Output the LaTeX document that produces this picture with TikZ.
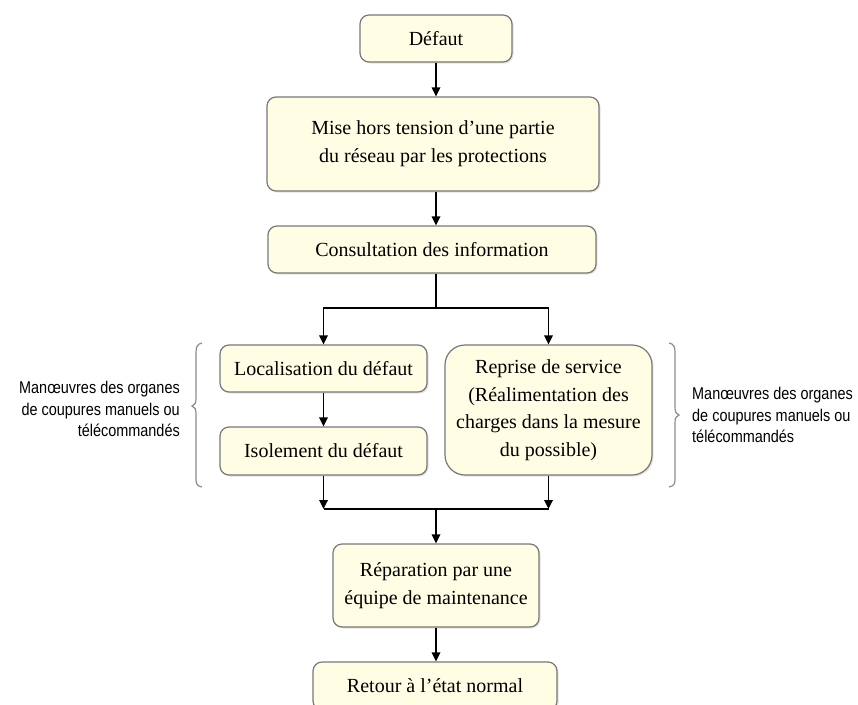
\documentclass[tikz,border=0pt]{standalone}
\usepackage{fontspec}
\setmainfont{Liberation Serif}
\newfontfamily\sidefont[FakeStretch=0.85]{Liberation Sans}
\usetikzlibrary{arrows.meta,shadows}
\definecolor{boxfill}{RGB}{255,254,228}
\definecolor{boxdraw}{RGB}{120,120,120}
\definecolor{bracecol}{RGB}{140,140,140}
\tikzset{
  stepbox/.style={draw=boxdraw, line width=1.2pt, fill=boxfill, rounded corners=9pt,
    align=center, inner sep=0pt, font=\fontsize{20}{28}\selectfont,
    drop shadow={opacity=0.22, shadow xshift=1.5pt, shadow yshift=-1.5pt}},
  link/.style={line width=1.7pt, black},
  arr/.style={link, -{Triangle[length=9pt,width=8.5pt]}},
  sidetext/.style={font=\sidefont\fontsize{17}{21.5}\selectfont, inner sep=0pt},
  bracket/.style={draw=bracecol, line width=1.2pt}
}
\begin{document}
\begin{tikzpicture}[x=1pt,y=-1pt]
\clip (0,0) rectangle (858,704);
\fill[white] (0,0) rectangle (858,704);

% main chain of steps
\node[stepbox, minimum width=152pt, minimum height=47pt] (defaut) at (436,38.5) {Défaut};
\node[stepbox, minimum width=332pt, minimum height=94pt] (mise) at (433,144)
  {Mise hors tension d’une partie\\du réseau par les protections};
\node[stepbox, minimum width=328pt, minimum height=47pt] (consult) at (432,249.5)
  {Consultation des information};
\node[stepbox, minimum width=207pt, minimum height=47pt] (loc) at (323.5,368.5)
  {Localisation du défaut};
\node[stepbox, minimum width=207pt, minimum height=48pt] (iso) at (323.5,451)
  {Isolement du défaut};
\node[stepbox, rounded corners=20pt, minimum width=207pt, minimum height=130pt,
  font=\fontsize{20}{27.5}\selectfont] (reprise) at (548.5,410)
  {Reprise de service\\(Réalimentation des\\charges dans la mesure\\du possible)};
\node[stepbox, minimum width=206pt, minimum height=83pt] (repar) at (436,585.5)
  {Réparation par une\\équipe de maintenance};
\node[stepbox, minimum width=244pt, minimum height=48pt] (retour) at (435,686)
  {Retour à l’état normal};

% branching and merging points
\coordinate (split) at (436,308);
\coordinate (join) at (436,509);

% connectors
\draw[arr] (defaut.south) -- (defaut.south |- mise.north);
\draw[arr] (defaut.south |- mise.south) -- (defaut.south |- consult.north);
\draw[link] (split |- consult.south) -- (split);
\draw[arr] (split) -| (loc.north);
\draw[arr] (split) -| (reprise.north);
\draw[arr] (loc.south) -- (iso.north);
\draw[arr] (iso.south) -- (iso.south |- join);
\draw[arr] (reprise.south) -- (reprise.south |- join);
\draw[link] (iso.south |- join) -- (reprise.south |- join);
\draw[arr] (join) -- (repar.north);
\draw[arr] (repar.south) -- (repar.south |- retour.north);

% braces with their notes
\draw[bracket] (202,343) .. controls (197,344) and (196,347) .. (196,353) -- (196,398)
  .. controls (196,403) and (195,405) .. (192,406)
  .. controls (195,407) and (196,409) .. (196,414) -- (196,479)
  .. controls (196,484) and (197,486) .. (202,487);
\draw[bracket] (669,343) .. controls (674,344) and (675,347) .. (675,353) -- (675,407)
  .. controls (675,412) and (676,414) .. (679,415)
  .. controls (676,416) and (675,418) .. (675,423) -- (675,479)
  .. controls (675,484) and (674,486) .. (669,487);

\node[sidetext, align=right, anchor=north east] (noteL) at (180,381)
  {Manœuvres des organes\\de coupures manuels ou\\télécommandés};
\node[sidetext, align=left, anchor=north west] (noteR) at (692,387)
  {Manœuvres des organes\\de coupures manuels ou\\télécommandés};
\end{tikzpicture}
\end{document}
